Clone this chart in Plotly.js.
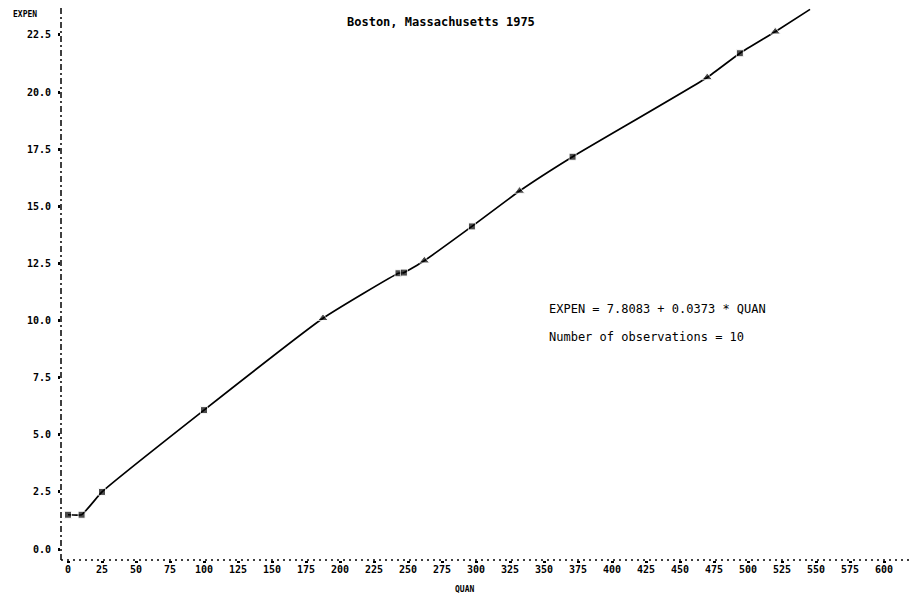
<!DOCTYPE html>
<html>
<head>
<meta charset="utf-8">
<script src="https://cdn.plot.ly/plotly-3.0.1.min.js"></script>
<style>html,body{margin:0;padding:0;background:#fff;}#chart{width:913px;height:600px;}</style>
</head>
<body>
<div id="chart"></div>
<script>
// Observed points (QUAN, EXPEN) and plot letter
var quan  = [0, 10, 25, 100, 187.5, 243, 247, 262, 297, 332, 371, 470, 494, 520];
var expen = [1.5, 1.5, 2.5, 6.08, 10.1, 12.07, 12.1, 12.62, 14.12, 15.67, 17.17, 20.64, 21.7, 22.64];
var plotLetter = ['B','B','B','B','A','B','B','A','B','A','B','A','B','A'];
// curve drawn through the points, extended to the top edge
var curveQuan  = quan.concat([545.6]);
var curveExpen = expen.concat([23.62]);

var xTicks = [];
for (var v = 0; v <= 600; v += 25) xTicks.push(v);
var yTicks = [0, 2.5, 5, 7.5, 10, 12.5, 15, 17.5, 20, 22.5];
var yTickText = yTicks.map(function(t){ return t.toFixed(1); });

var titleText = 'Boston, Massachusetts 1975';
var eqText = 'EXPEN = 7.8083 + 0.0373 * QUAN';
var nText = 'Number of observations = 10';

var mono = 'DejaVu Sans Mono, Liberation Mono, monospace';

var traces = [
  {x: curveQuan, y: curveExpen, mode: 'lines', line: {color: '#000', width: 1.7, shape: 'spline', smoothing: 0.4}, hoverinfo: 'skip', showlegend: false},
  {x: quan, y: expen, mode: 'markers', showlegend: false,
   marker: {color: '#000',
            size: plotLetter.map(function(c){ return c === 'A' ? 9 : 7; }),
            symbol: plotLetter.map(function(c){ return c === 'A' ? 'triangle-up' : 'square'; })}}
];

var layout = {
  width: 913, height: 600,
  margin: {l: 61, r: 3, t: 8, b: 40},
  paper_bgcolor: '#fff', plot_bgcolor: '#fff',
  showlegend: false,
  xaxis: {range: [-5.15, 619.1], tickvals: xTicks, ticktext: xTicks.map(String),
          showgrid: false, zeroline: false, showline: false,
          ticks: 'outside', ticklen: 2, tickwidth: 3, tickcolor: '#000', ticklabelstandoff: -2,
          tickfont: {family: mono, size: 10, color: '#000', weight: 'bold'}},
  yaxis: {range: [-0.48, 23.68], tickvals: yTicks, ticktext: yTickText,
          showgrid: false, zeroline: false, showline: false,
          ticks: 'outside', ticklen: 2, tickwidth: 3, tickcolor: '#000', ticklabelstandoff: 5,
          tickfont: {family: mono, size: 10, color: '#000', weight: 'bold'}},
  shapes: [
    {type: 'line', xref: 'paper', yref: 'paper', x0: 0, x1: 0, y0: 0, y1: 1,
     line: {color: '#000', width: 1.5, dash: '6px,3px,2px,3px'}},
    {type: 'line', xref: 'paper', yref: 'paper', x0: 0, x1: 1, y0: 0, y1: 0,
     line: {color: '#000', width: 1.5, dash: '2px,4px'}}
  ],
  annotations: [
    {text: titleText, xref: 'paper', yref: 'paper', x: 0.448, y: 0.975, xanchor: 'center', yanchor: 'middle',
     showarrow: false, font: {family: mono, size: 12, color: '#000', weight: 600}},
    {text: eqText, xref: 'x', yref: 'y', x: 352, y: 10.5, xanchor: 'left', yanchor: 'middle',
     showarrow: false, font: {family: mono, size: 12, color: '#000'}},
    {text: nText, xref: 'x', yref: 'y', x: 352, y: 9.27, xanchor: 'left', yanchor: 'middle',
     showarrow: false, font: {family: mono, size: 12, color: '#000'}},
    {text: 'EXPEN', xref: 'paper', yref: 'paper', x: -0.0254, y: 0.989, xanchor: 'right', yanchor: 'middle',
     showarrow: false, font: {family: mono, size: 8, color: '#000', weight: 'bold'}},
    {text: 'QUAN', xref: 'paper', yref: 'paper', x: 0.475, y: -0.054, xanchor: 'center', yanchor: 'middle',
     showarrow: false, font: {family: mono, size: 8, color: '#000', weight: 'bold'}}
  ]
};

Plotly.newPlot('chart', traces, layout, {displayModeBar: false, staticPlot: true});
</script>
</body>
</html>
